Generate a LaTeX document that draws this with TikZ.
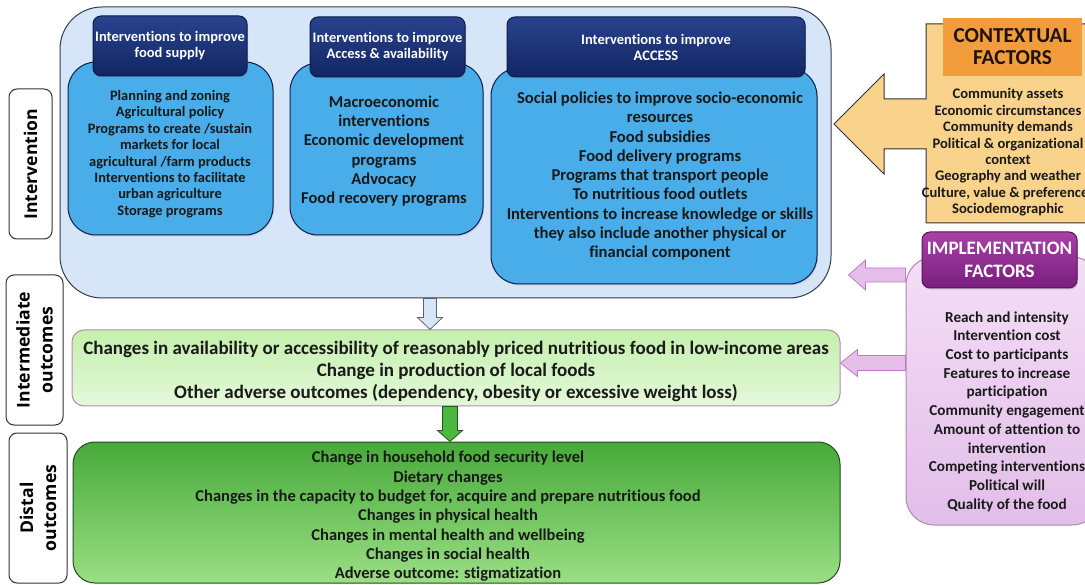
\documentclass[tikz,border=0pt]{standalone}
\usepackage{fontspec}
\setmainfont{Carlito}[Ligatures=NoCommon]
\newfontfamily\labelfont{Open Sans}
\usetikzlibrary{positioning, calc, shadows}
\definecolor{PaleBlue}{RGB}{214, 230, 248}
\definecolor{SkyBlue}{RGB}{72, 173, 233}
\definecolor{NavyTop}{RGB}{40, 66, 140}
\definecolor{NavyBottom}{RGB}{18, 38, 100}
\definecolor{SandOrange}{RGB}{249, 211, 140}
\definecolor{DeepOrange}{RGB}{243, 156, 60}
\definecolor{PlumTop}{RGB}{168, 64, 168}
\definecolor{PlumBottom}{RGB}{122, 30, 126}
\definecolor{LilacTop}{RGB}{244, 222, 246}
\definecolor{LilacBottom}{RGB}{226, 190, 233}
\definecolor{LilacArrow}{RGB}{229, 190, 234}
\definecolor{MintTop}{RGB}{196, 240, 172}
\definecolor{MintBottom}{RGB}{228, 248, 218}
\definecolor{LeafTop}{RGB}{71, 170, 58}
\definecolor{LeafBottom}{RGB}{154, 223, 132}
\definecolor{LeafArrow}{RGB}{77, 184, 64}
\definecolor{InkGray}{RGB}{55, 60, 70}

% block arrow: [style]{tail}{tip}{half shaft}{half head}{head length}
\newcommand{\fatarrow}[6][]{%
  \coordinate (fa-base) at ($(#3)!#6!(#2)$);
  \draw[#1] ($(#2)!#4!90:(#3)$) -- ($(fa-base)!#4!-90:(#2)$)
    -- ($(fa-base)!#5!-90:(#2)$) -- (#3)
    -- ($(fa-base)!#5!90:(#2)$) -- ($(fa-base)!#4!90:(#2)$)
    -- ($(#2)!#4!-90:(#3)$) -- cycle;
}

\begin{document}
\begin{tikzpicture}[x=1pt, y=-1pt,
    panel/.style={draw=InkGray, line width=1pt, inner sep=0pt},
    headbox/.style={panel, draw=NavyBottom!70!black, top color=NavyTop, bottom color=NavyBottom,
      rounded corners=8, text=white, align=center,
      font=\fontsize{14.5}{16}\selectfont\bfseries,
      drop shadow={opacity=0.3, shadow xshift=1pt, shadow yshift=-1.5pt}},
    bodybox/.style={panel, draw=NavyBottom!80!black, fill=SkyBlue, rounded corners=28,
      drop shadow={opacity=0.25, shadow xshift=1pt, shadow yshift=-1.5pt}},
    bodytext/.style={align=center, text=black!90, inner sep=0pt},
    sidelabel/.style={panel, draw=black!80, fill=white, rounded corners=8, rotate=90,
      minimum width=150, align=center, font=\labelfont\fontsize{17.6}{23}\selectfont\bfseries}]
  \useasboundingbox (0,0) rectangle (1085,585);

  % Intervention panel with its three groups
  \node[panel, fill=PaleBlue, rounded corners=42, minimum width=771, minimum height=291]
    (intervention) at (445.5,152.5) {};

  \node[bodybox, minimum width=205, minimum height=173] (supply) at (170.5,148.5) {};
  \node[headbox, minimum width=154, minimum height=60] (supplyhead) at (170,46)
    {Interventions to improve\\food supply};
  \node[bodytext, font=\fontsize{14.4}{16.4}\selectfont\bfseries] (supplytext) at (170,154)
    {Planning and zoning\\Agricultural policy\\Programs to create /sustain\\markets for local\\
     agricultural /farm products\\Interventions to facilitate\\urban agriculture\\Storage programs};

  \node[bodybox, minimum width=193, minimum height=172] (avail) at (386.5,149) {};
  \node[headbox, minimum width=155, minimum height=60] (availhead) at (387.5,47)
    {Interventions to improve\\Access \& availability};
  \node[bodytext, font=\fontsize{16.5}{19.3}\selectfont\bfseries] (availtext) at (384,151)
    {Macroeconomic\\interventions\\Economic development\\programs\\Advocacy\\Food recovery programs};

  \node[bodybox, minimum width=326, minimum height=216] (access) at (654,176) {};
  \node[headbox, minimum width=298, minimum height=60] (accesshead) at (656,47)
    {Interventions to improve\\ACCESS};
  \node[bodytext, font=\fontsize{16.6}{19.25}\selectfont\bfseries] (accesstext) at (660,176)
    {Social policies to improve socio-economic\\resources\\Food subsidies\\Food delivery programs\\
     Programs that transport people\\To nutritious food outlets\\
     Interventions to increase knowledge or skills\\they also include another physical or\\
     financial component};

  % Row labels
  \node[sidelabel, minimum height=43] (lblintervention) at (30.5,164) {Intervention};
  \node[sidelabel, minimum height=57] (lblintermediate) at (34.5,350) {Intermediate\\outcomes};
  \node[sidelabel, minimum height=58] (lbldistal) at (38,508) {Distal\\outcomes};

  % Outcomes
  \node[panel, draw=black!35!violet!45, rounded corners=12, top color=MintTop, bottom color=MintBottom,
    minimum width=768, minimum height=76] (intermediate) at (456,368) {};
  \node[bodytext, font=\fontsize{19}{22}\selectfont\bfseries] (intermediatetext) at (456,371)
    {Changes in availability or accessibility of reasonably priced nutritious food in low-income areas\\
     Change in production of local foods\\
     Other adverse outcomes (dependency, obesity or excessive weight loss)};

  \node[panel, draw=LeafTop!45!black, rounded corners=22, top color=LeafTop, bottom color=LeafBottom,
    minimum width=767, minimum height=141] (distal) at (456.5,512.5) {};
  \node[bodytext, font=\fontsize{16.5}{19.3}\selectfont\bfseries] (distaltext) at (448,516.5)
    {Change in household food security level\\Dietary changes\\
     Changes in the capacity to budget for, acquire and prepare nutritious food\\
     Changes in physical health\\Changes in mental health and wellbeing\\
     Changes in social health\\Adverse outcome: stigmatization};

  % Flow between the rows
  \coordinate (flow1) at ($(intervention.south)+(-15.5,0)$);
  \coordinate (flow1end) at (flow1 |- intermediate.north);
  \fatarrow[fill=PaleBlue, draw=InkGray!80, line width=0.8pt]{flow1}{flow1end}{6.5pt}{12.5pt}{12pt}
  \coordinate (flow2) at ($(intermediate.south)+(-6,0)$);
  \coordinate (flow2end) at (flow2 |- distal.north);
  \fatarrow[fill=LeafArrow, draw=LeafTop!50!black, line width=0.8pt]{flow2}{flow2end}{7.5pt}{12.5pt}{11pt}

  % Contextual factors
  \draw[fill=SandOrange, draw=black!80, line width=1pt]
    (1100,24) -- (926,24) -- (926,99) -- (884,99) -- (884,74) -- (834,124)
    -- (884,174) -- (884,149) -- (926,149) -- (926,223) -- (1100,223) -- cycle;
  \node[fill=DeepOrange, minimum width=139, minimum height=58, align=center, text=black!85!brown,
    font=\fontsize{21.3}{22}\selectfont\bfseries] (ctxhead) at (1012.5,47) {CONTEXTUAL\\FACTORS};
  \node[bodytext, font=\fontsize{14.6}{16.4}\selectfont\bfseries] (ctxtext) at (1008,152.5)
    {Community assets\\Economic circumstances\\Community demands\\Political \& organizational\\
     context\\Geography and weather\\Culture, value \& preferences\\Sociodemographic};

  % Implementation factors
  \node[panel, draw=PlumBottom!55, rounded corners=28, top color=LilacTop, bottom color=LilacBottom,
    minimum width=194, minimum height=268] (impl) at (1003,391) {};
  \node[headbox, draw=PlumBottom!70!black, top color=PlumTop, bottom color=PlumBottom,
    font=\fontsize{19}{23}\selectfont\bfseries, minimum width=155, minimum height=56]
    (implhead) at (999.5,260) {IMPLEMENTATION\\FACTORS};
  \node[bodytext, font=\fontsize{15.2}{18.7}\selectfont\bfseries] (impltext) at (1007,411.5)
    {Reach and intensity\\Intervention cost\\Cost to participants\\Features to increase\\
     participation\\Community engagement\\Amount of attention to\\intervention\\
     Competing interventions\\Political will\\Quality of the food};

  \coordinate (impl1) at (impl.west |- 0,275);
  \coordinate (impl1end) at ($(intervention.east |- impl1)+(17,0)$);
  \fatarrow[fill=LilacArrow, draw=PlumTop!70, line width=0.8pt]{impl1}{impl1end}{7pt}{15pt}{17pt}
  \coordinate (impl2) at (impl.west |- 0,363);
  \coordinate (impl2end) at (intermediate.east |- impl2);
  \fatarrow[fill=LilacArrow, draw=PlumTop!70, line width=0.8pt]{impl2}{impl2end}{7.5pt}{13.5pt}{17pt}
\end{tikzpicture}
\end{document}
